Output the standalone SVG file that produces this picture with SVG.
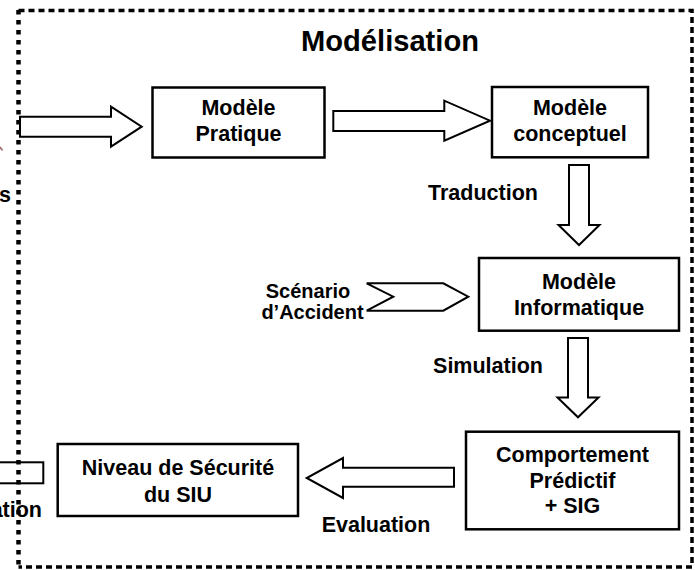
<svg xmlns="http://www.w3.org/2000/svg" width="695" height="570" viewBox="0 0 695 570">
<style>
  text { font-family: "Liberation Sans", Arial, sans-serif; font-weight: bold; fill: #000; }
  .lbl { font-size: 21.5px; }
  .sm { font-size: 20px; text-anchor: middle; }
  .nt { font-size: 21.5px; text-anchor: middle; }
  .box { fill: #fff; stroke: #000; stroke-width: 2.5; }
  .arr { fill: #fff; stroke: #000; stroke-width: 2; stroke-linejoin: miter; }
  .frame { fill: none; stroke: #000; stroke-width: 3.5; stroke-dasharray: 6 4; }
  .frameL { fill: none; stroke: #000; stroke-width: 4.5; stroke-dasharray: 4.5 5.5; }
</style>

<g id="connectors">
  <polygon class="arr" points="20,116.7 111,116.7 111,106.7 141.7,126.7 111,146.7 111,136.7 20,136.7"/>
  <polygon class="arr" points="333.3,111 444.3,111 444.3,100.7 490,120.7 444.3,140.7 444.3,131 333.3,131"/>
  <polygon class="arr" points="569,165 589,165 589,225 599.5,225 579,245 558.5,225 569,225"/>
  <polygon class="arr" points="366.7,283.3 443.3,283.3 468.3,296.7 443.3,310.7 366.7,310.7 393.3,296.7"/>
  <polygon class="arr" points="568,338 588,338 588,397.5 598.5,397.5 578,417.3 557.5,397.5 568,397.5"/>
  <polygon class="arr" points="454,467.7 343,467.7 343,458 306.7,478 343,498 343,486.7 454,486.7"/>
  <rect class="arr" x="-10" y="462.3" width="53.3" height="21"/>
  <path d="M0,147 L2.5,150.5" stroke="#a06868" stroke-width="1.5" fill="none"/>
</g>

<g id="title">
  <text x="390" y="51" font-size="29" text-anchor="middle" textLength="178" lengthAdjust="spacingAndGlyphs">Modélisation</text>
</g>

<g id="node-pratique">
  <rect class="box" x="152.5" y="87.5" width="172" height="70"/>
  <text class="nt" x="238.5" y="115">Modèle</text>
  <text class="nt" x="238.5" y="141">Pratique</text>
</g>

<g id="node-conceptuel">
  <rect class="box" x="492" y="87" width="156" height="70.3"/>
  <text class="nt" x="570" y="115">Modèle</text>
  <text class="nt" x="570" y="141">conceptuel</text>
</g>

<g id="node-informatique">
  <rect class="box" x="479" y="258" width="200" height="72.7"/>
  <text class="nt" x="579" y="289">Modèle</text>
  <text class="nt" x="579" y="315">Informatique</text>
</g>

<g id="node-comportement">
  <rect class="box" x="466" y="431.7" width="213" height="97.6"/>
  <text class="nt" x="572.5" y="461.7">Comportement</text>
  <text class="nt" x="572.5" y="488.3">Prédictif</text>
  <text class="nt" x="572.5" y="513.3">+ SIG</text>
</g>

<g id="node-niveau">
  <rect class="box" x="57.7" y="444" width="240.3" height="72"/>
  <text class="nt" x="178" y="475">Niveau de Sécurité</text>
  <text class="nt" x="178" y="501.7">du SIU</text>
</g>

<g id="labels">
  <text class="lbl" x="483" y="200" text-anchor="middle">Traduction</text>
  <text class="sm" x="308" y="297.5">Scénario</text>
  <text class="sm" x="312.5" y="319.3">d’Accident</text>
  <text class="lbl" x="488" y="372.7" text-anchor="middle">Simulation</text>
  <text class="lbl" x="376" y="531.7" text-anchor="middle">Evaluation</text>
  <text class="lbl" x="11" y="201.5" text-anchor="end">s</text>
  <text class="lbl" x="42" y="516.7" text-anchor="end">ation</text>
</g>

<g id="frame">
  <polyline class="frame" points="18.5,10.5 692,10.5 692,567 18.5,567"/>
  <line class="frameL" x1="18.5" y1="10" x2="18.5" y2="568"/>
</g>
</svg>
